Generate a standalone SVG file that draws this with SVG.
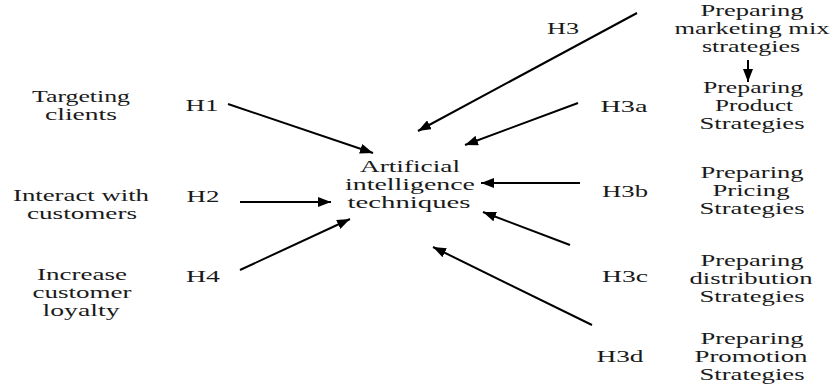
<svg xmlns="http://www.w3.org/2000/svg" width="830" height="388" viewBox="0 0 830 388">
<defs>
<style>
text{font-family:"Liberation Serif","Times New Roman",serif;font-size:16px;fill:#1a1a1a;text-anchor:middle}
.c line{stroke:#000;stroke-width:2;marker-end:url(#ah)}
</style>
<marker id="ah" markerUnits="userSpaceOnUse" markerWidth="14" markerHeight="10" refX="13" refY="5" orient="auto">
<path d="M0,0 L13,5 L0,10 z" fill="#000"/>
</marker>
</defs>
<rect width="830" height="388" fill="#fff"/>
<g id="targeting"><text x="81" y="102" textLength="98" lengthAdjust="spacingAndGlyphs">Targeting</text><text x="81" y="120" textLength="72" lengthAdjust="spacingAndGlyphs">clients</text></g>
<g id="interact"><text x="81" y="201" textLength="136" lengthAdjust="spacingAndGlyphs">Interact with</text><text x="82" y="219" textLength="110" lengthAdjust="spacingAndGlyphs">customers</text></g>
<g id="loyalty"><text x="82" y="280" textLength="90" lengthAdjust="spacingAndGlyphs">Increase</text><text x="82" y="298" textLength="99" lengthAdjust="spacingAndGlyphs">customer</text><text x="81" y="316" textLength="77" lengthAdjust="spacingAndGlyphs">loyalty</text></g>
<g id="ai"><text x="410" y="172" textLength="100" lengthAdjust="spacingAndGlyphs">Artificial</text><text x="410" y="190" textLength="130" lengthAdjust="spacingAndGlyphs">intelligence</text><text x="409" y="208" textLength="123" lengthAdjust="spacingAndGlyphs">techniques</text></g>
<g id="mix"><text x="752" y="16" textLength="103" lengthAdjust="spacingAndGlyphs">Preparing</text><text x="752" y="34" textLength="155" lengthAdjust="spacingAndGlyphs">marketing mix</text><text x="751" y="52" textLength="98" lengthAdjust="spacingAndGlyphs">strategies</text></g>
<g id="product"><text x="753" y="93" textLength="100" lengthAdjust="spacingAndGlyphs">Preparing</text><text x="754" y="111" textLength="78" lengthAdjust="spacingAndGlyphs">Product</text><text x="752" y="129" textLength="105" lengthAdjust="spacingAndGlyphs">Strategies</text></g>
<g id="pricing"><text x="752" y="178" textLength="103" lengthAdjust="spacingAndGlyphs">Preparing</text><text x="751" y="196" textLength="77" lengthAdjust="spacingAndGlyphs">Pricing</text><text x="752" y="214" textLength="105" lengthAdjust="spacingAndGlyphs">Strategies</text></g>
<g id="distribution"><text x="752" y="266" textLength="103" lengthAdjust="spacingAndGlyphs">Preparing</text><text x="751" y="284" textLength="123" lengthAdjust="spacingAndGlyphs">distribution</text><text x="752" y="302" textLength="105" lengthAdjust="spacingAndGlyphs">Strategies</text></g>
<g id="promotion"><text x="752" y="344" textLength="103" lengthAdjust="spacingAndGlyphs">Preparing</text><text x="751" y="362" textLength="113" lengthAdjust="spacingAndGlyphs">Promotion</text><text x="752" y="380" textLength="105" lengthAdjust="spacingAndGlyphs">Strategies</text></g>
<g id="labels">
<text x="202" y="111" textLength="33" lengthAdjust="spacingAndGlyphs">H1</text>
<text x="203" y="202" textLength="33" lengthAdjust="spacingAndGlyphs">H2</text>
<text x="203" y="282" textLength="34" lengthAdjust="spacingAndGlyphs">H4</text>
<text x="563" y="34" textLength="32" lengthAdjust="spacingAndGlyphs">H3</text>
<text x="624" y="112" textLength="47" lengthAdjust="spacingAndGlyphs">H3a</text>
<text x="625" y="197" textLength="46" lengthAdjust="spacingAndGlyphs">H3b</text>
<text x="625" y="282" textLength="46" lengthAdjust="spacingAndGlyphs">H3c</text>
<text x="620" y="362" textLength="47" lengthAdjust="spacingAndGlyphs">H3d</text>
</g>
<g id="connectors" class="c">
<line x1="228" y1="104" x2="373" y2="153"/>
<line x1="240" y1="202" x2="331" y2="202"/>
<line x1="240" y1="270" x2="350" y2="219"/>
<line x1="637" y1="13" x2="418" y2="131"/>
<line x1="578" y1="103" x2="465" y2="145"/>
<line x1="580" y1="183" x2="481" y2="183"/>
<line x1="570" y1="245" x2="483" y2="212"/>
<line x1="592" y1="325" x2="433" y2="247"/>
<line x1="748" y1="60" x2="748" y2="82"/>
</g>
</svg>
